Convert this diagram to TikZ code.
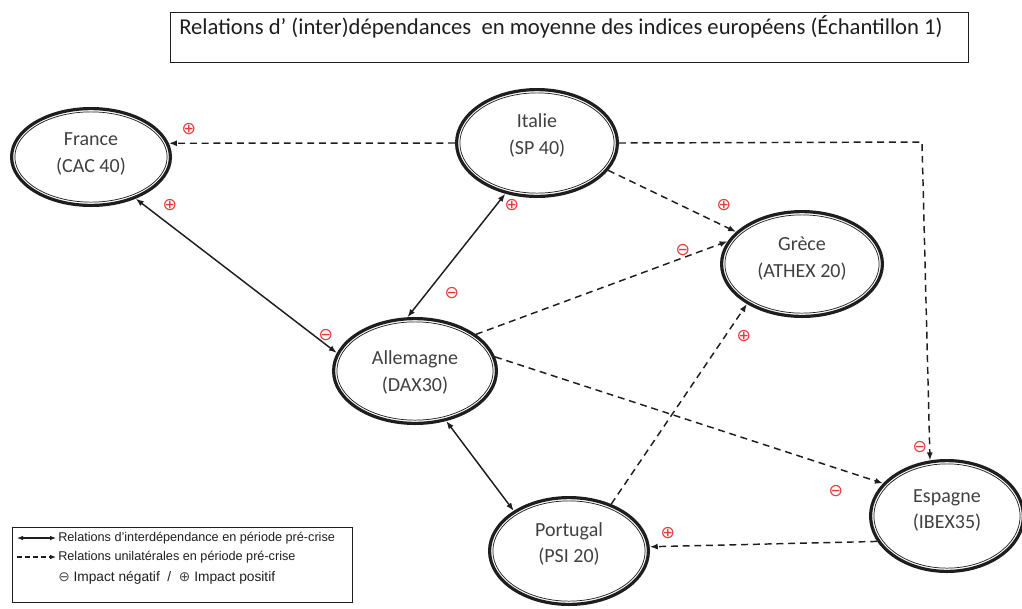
\documentclass[tikz,border=0pt]{standalone}
\usepackage{fontspec}
\setmainfont{Carlito}
\newfontfamily\legfont{Liberation Sans}
\newfontfamily\symfont{DejaVu Sans}
\usetikzlibrary{shapes.geometric,arrows.meta}
\definecolor{ink}{RGB}{30,30,30}
\definecolor{sgnred}{RGB}{232,58,58}
\tikzset{
  enode/.style={ellipse, draw=ink, line width=2.4pt, inner sep=0pt,
     font=\fontsize{15}{20}\selectfont, text=ink!85},
  innerring/.style={draw=ink, line width=0.55pt},
  tip/.style={-{Latex[length=6pt,width=4.5pt]}},
  bitip/.style={{Latex[length=6pt,width=4.5pt]}-{Latex[length=6pt,width=4.5pt]}},
  solidlink/.style={draw=ink, line width=1.1pt},
  dashlink/.style={draw=ink, line width=1.1pt, dash pattern=on 5.2pt off 3.6pt},
  sgn/.style={text=sgnred, font=\symfont\fontsize{13}{13}\selectfont, inner sep=0pt},
}
\newcommand{\dellipse}[8]{%
  \node[enode, minimum width=#4*1.5pt-2.4pt, minimum height=#5*1.5pt-2.4pt] (#1) at (#2,#3)
    {\raisebox{0.75\dimexpr #8pt\relax}[\height][\depth]{\begin{tabular}{@{}c@{}}#6\\#7\end{tabular}}};
  \draw[innerring] (#1.center) ellipse [x radius=#4*0.75pt-3.65pt, y radius=#5*0.75pt-3.65pt];
}
\begin{document}
\begin{tikzpicture}[x=0.75pt,y=-0.75pt]
\useasboundingbox (0,0) rectangle (1022,608);
% title
\node[draw=ink, line width=0.6pt, minimum width=798*0.75pt, minimum height=50*0.75pt, inner sep=0pt] (titlebox) at (569,37) {};
\node[anchor=west, inner sep=0pt, font=\fontsize{17}{20}\selectfont, text=ink] (title) at (179,27)
  {Relations d’ (inter)dépendances \ en moyenne des indices européens (Échantillon 1)};
% nodes
\dellipse{france}{91}{157}{81}{50}{France}{(CAC 40)}{3.5}
\dellipse{italie}{537}{143}{82}{55}{Italie}{(SP 40)}{7.5}
\dellipse{grece}{802}{264}{82}{54}{Grèce}{(ATHEX 20)}{5.5}
\dellipse{allemagne}{415}{371}{83}{54}{Allemagne}{(DAX30)}{-1.5}
\dellipse{espagne}{947}{516}{78}{57}{Espagne}{(IBEX35)}{6}
\dellipse{portugal}{569}{551}{81}{55}{Portugal}{(PSI 20)}{7}
% connectors
\coordinate (corner) at (922,142);
\draw[dashlink, tip] (italie.180) -- (france.10);
\draw[dashlink, tip] (italie.-21) -- (grece.154);
\draw[dashlink, tip] (italie.0) -- (corner) -- (espagne.107);
\draw[dashlink, tip] (allemagne.31) -- (grece.163);
\draw[dashlink, tip] (allemagne.10) -- (espagne.153);
\draw[dashlink, tip] (portugal.48) -- (grece.-144);
\draw[dashlink, tip] (espagne.-160) -- (portugal.3);
\draw[solidlink, bitip] (france.-43) -- (allemagne.167);
\draw[solidlink, bitip] (italie.-122) -- (allemagne.98);
\draw[solidlink, bitip] (allemagne.-58) -- (portugal.144);
% signs
\node[sgn] (s1) at (189,129) {⊕};
\node[sgn] (s2) at (170,205) {⊕};
\node[sgn] (s3) at (326,335) {⊖};
\node[sgn] (s4) at (512,205) {⊕};
\node[sgn] (s5) at (452,293) {⊖};
\node[sgn] (s6) at (724,205) {⊕};
\node[sgn] (s7) at (683,250) {⊖};
\node[sgn] (s8) at (744,336) {⊕};
\node[sgn] (s9) at (920,447) {⊖};
\node[sgn] (s10) at (836,491) {⊖};
\node[sgn] (s11) at (668,533) {⊕};
% legend
\node[draw=ink, line width=0.6pt, minimum width=340*0.75pt, minimum height=75*0.75pt, inner sep=0pt] (legend) at (182,564.5) {};
\coordinate (l1a) at (17,538); \coordinate (l1b) at (56,538);
\coordinate (l2a) at (17,557); \coordinate (l2b) at (56,557);
\draw[line width=0.8pt, draw=ink, {Latex[length=4.5pt,width=3.5pt]}-{Latex[length=4.5pt,width=3.5pt]}] (l1a) -- (l1b);
\draw[line width=0.8pt, draw=ink, dash pattern=on 3.5pt off 2.5pt, -{Latex[length=4.5pt,width=3.5pt]}] (l2a) -- (l2b);
\node[anchor=west, inner sep=0pt, font=\legfont\fontsize{9.5}{11}\selectfont, text=ink] (leg1) at (58,538) {Relations d’interdépendance en période pré-crise};
\node[anchor=west, inner sep=0pt, font=\legfont\fontsize{9.5}{11}\selectfont, text=ink] (leg2) at (58,557) {Relations unilatérales en période pré-crise};
\node[anchor=west, inner sep=0pt, font=\legfont\fontsize{10.3}{12}\selectfont, text=ink] (leg3) at (58,578) {{\symfont\color{ink!80}⊖} Impact négatif \ / \ {\symfont\color{ink!80}⊕} Impact positif};
\end{tikzpicture}
\end{document}
